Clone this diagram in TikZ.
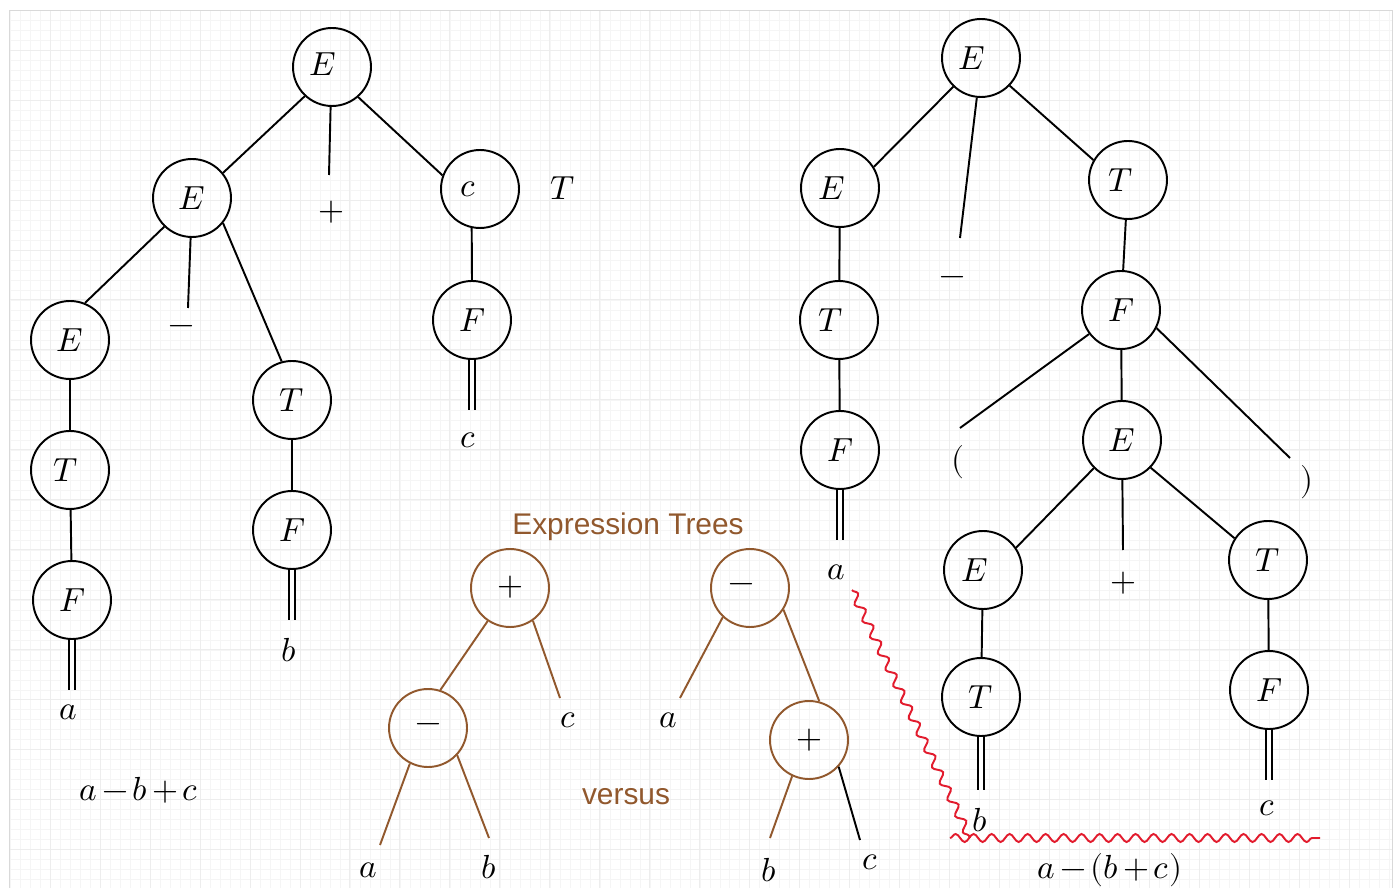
\documentclass[tikz,border=0pt]{standalone}
\usepackage{fontspec}
\usepackage{unicode-math}
\setmathfont{Latin Modern Math}
\setsansfont{Liberation Sans}
\usetikzlibrary{decorations.pathmorphing}
\definecolor{brn}{RGB}{145,88,45}
\definecolor{wavy}{RGB}{226,27,45}
% shifted node text: #1 horizontal shift, #2 vertical shift, #3 letter
\newcommand\ntx[3]{\hspace*{#1}\hspace*{#1}\raisebox{#2}{$#3$}}
\begin{document}
\begin{tikzpicture}[x=0.02cm,y=-0.02cm,
  nd/.style={circle, draw, line width=1.1pt, minimum size=1.56cm, inner sep=0pt, font=\fontsize{19}{22}\selectfont},
  bnd/.style={nd, draw=brn},
  lbl/.style={inner sep=0pt, font=\fontsize{19}{22}\selectfont},
  ttl/.style={inner sep=0pt, text=brn, font=\sffamily\fontsize{17}{20}\selectfont},
  edge/.style={line width=1.1pt},
  bedge/.style={line width=1.1pt, draw=brn},
  dbl/.style={double, line width=1.1pt, double distance=1.8pt},
  wv/.style={draw=wavy, line width=1.1pt, decorate, decoration={snake, amplitude=0.08cm, segment length=0.36cm}}]
\useasboundingbox (0,0) rectangle (1397,888);
\fill[white] (0,0) rectangle (1397,888);
\draw[black!4, line width=0.4pt] (9,10) grid[step=0.2cm] (1392,888);
\draw[black!7, line width=0.5pt] (9,10) grid[step=1cm] (1392,888);
\draw[black!15, line width=0.5pt] (9,888) -- (9,10) -- (1392,10) -- (1392,888);

% left parse tree
\node[nd] (L1) at (332,67) {\ntx{-5.5pt}{3.5pt}{E}};
\node[nd] (L2) at (192,198) {$E$};
\node[lbl] (Lplus) at (331,212) {$+$};
\node[nd] (Lc) at (480,189) {\ntx{-6.5pt}{0pt}{c}};
\node[lbl] (LT) at (563,188) {$T$};
\node[nd] (L3) at (70,340) {$E$};
\node[lbl] (Lminus) at (181,330) {$-$};
\node[nd] (LT2) at (292,400) {$T$};
\node[nd] (LF3) at (472,320) {$F$};
\node[lbl] (Lc2) at (468,440) {$c$};
\node[nd] (LT1) at (70,470) {\ntx{-2.5pt}{0pt}{T}};
\node[nd] (LF1) at (72,600) {$F$};
\node[lbl] (La) at (68,712) {$a$};
\node[nd] (LF2) at (292,530) {$F$};
\node[lbl] (Lb) at (289,650) {$b$};
\node[lbl] (Lexpr) at (139,790) {\medmuskip=2.5mu$a-b+c$};
\coordinate (pPlus) at (329,175);
\coordinate (pMinus) at (188,308);
\coordinate (pc2) at (472,410);
\coordinate (pa) at (72,690);
\coordinate (pb) at (292,620);
\draw[edge] (L1.227) -- (L2.39);
\draw[edge] (L1.268) -- (pPlus);
\draw[edge] (L1.311) -- (Lc.160);
\draw[edge] (L2.226) -- (L3.68);
\draw[edge] (L2.268) -- (pMinus);
\draw[edge] (L2.321) -- (LT2.105);
\draw[edge] (Lc.258) -- (LF3.90);
\draw[dbl] (LF3) -- (pc2);
\draw[edge] (L3) -- (LT1);
\draw[edge] (LT1) -- (LF1);
\draw[dbl] (LF1) -- (pa);
\draw[edge] (LT2) -- (LF2);
\draw[dbl] (LF2) -- (pb);

% right parse tree
\node[nd] (R1) at (981,58) {\ntx{-5.5pt}{0pt}{E}};
\node[nd] (R2) at (840,188) {\ntx{-4.5pt}{0pt}{E}};
\node[lbl] (Rminus) at (952,281) {$-$};
\node[nd] (RT) at (1128,180) {\ntx{-4pt}{0pt}{T}};
\node[nd] (RT2) at (839,320) {\ntx{-4.5pt}{0pt}{T}};
\node[nd] (RF2) at (840,450) {$F$};
\node[lbl] (Ra) at (836,572) {$a$};
\node[nd] (RF) at (1121,310) {$F$};
\node[lbl] (Rlp) at (958,462) {$($};
\node[nd] (RE) at (1122,440) {$E$};
\node[lbl] (Rrp) at (1307,482) {$)$};
\node[nd] (RE2) at (983,570) {\ntx{-5pt}{0pt}{E}};
\node[lbl] (Rplus) at (1123,583) {$+$};
\node[nd] (RT3) at (1268,560) {$T$};
\node[nd] (RT4) at (981,697) {$T$};
\node[lbl] (Rb) at (980,820) {$b$};
\node[nd] (RF3) at (1269,690) {$F$};
\node[lbl] (Rc) at (1267,808) {$c$};
\node[lbl] (Rexpr) at (1110,870) {\medmuskip=2.5mu$a-(b+c)$};
\coordinate (pRm) at (960,238);
\coordinate (pRa) at (840,540);
\coordinate (pRlp) at (960,428);
\coordinate (pRrp) at (1290,458);
\coordinate (pRp) at (1123,550);
\coordinate (pRb) at (981,790);
\coordinate (pRc) at (1269,780);
\draw[edge] (R1.226) -- (R2.32);
\draw[edge] (R1.264) -- (pRm);
\draw[edge] (R1.316) -- (RT.150);
\draw[edge] (R2) -- (RT2);
\draw[edge] (RT2) -- (RF2);
\draw[dbl] (RF2) -- (pRa);
\draw[edge] (RT) -- (RF);
\draw[edge] (RF.217) -- (pRlp);
\draw[edge] (RF) -- (RE);
\draw[edge] (RF.333) -- (pRrp);
\draw[edge] (RE.225) -- (RE2.34);
\draw[edge] (RE) -- (pRp);
\draw[edge] (RE.316) -- (RT3.147);
\draw[edge] (RE2) -- (RT4);
\draw[dbl] (RT4) -- (pRb);
\draw[edge] (RT3) -- (RF3);
\draw[dbl] (RF3) -- (pRc);

% expression trees
\node[ttl] (title) at (628,527) {Expression Trees};
\node[ttl] (versus) at (626,797) {versus};
\node[bnd] (B1) at (510,588) {\ntx{0pt}{2.5pt}{+}};
\node[bnd] (B2) at (428,728) {$-$};
\node[lbl] (Bc) at (568,720) {$c$};
\node[lbl] (Ba) at (368,870) {$a$};
\node[lbl] (Bb) at (489,867) {$b$};
\node[bnd] (B3) at (750,588) {\ntx{-5pt}{0pt}{-}};
\node[lbl] (Ba2) at (668,720) {$a$};
\node[bnd] (B4) at (809,740) {$+$};
\node[lbl] (Bb2) at (769,870) {$b$};
\node[lbl] (Bc2) at (870,862) {$c$};
\coordinate (pBc) at (560,698);
\coordinate (pBa) at (380,845);
\coordinate (pBb) at (489,838);
\coordinate (pBa2) at (680,698);
\coordinate (pBb2) at (770,838);
\coordinate (pBc2) at (860,840);
\draw[bedge] (B1.236) -- (B2.72);
\draw[bedge] (B1.305) -- (pBc);
\draw[bedge] (B2.243) -- (pBa);
\draw[bedge] (B2.317) -- (pBb);
\draw[bedge] (B3.227) -- (pBa2);
\draw[bedge] (B3.327) -- (B4.75);
\draw[bedge] (B4.245) -- (pBb2);
\draw[edge] (B4.318) -- (pBc2);

% wavy marks
\coordinate (w1) at (852,590);
\coordinate (w2) at (970,838);
\coordinate (w3) at (950,838);
\coordinate (w4) at (1320,838);
\draw[wv] (w1) -- (w2);
\draw[wv] (w3) -- (w4);
\end{tikzpicture}
\end{document}
